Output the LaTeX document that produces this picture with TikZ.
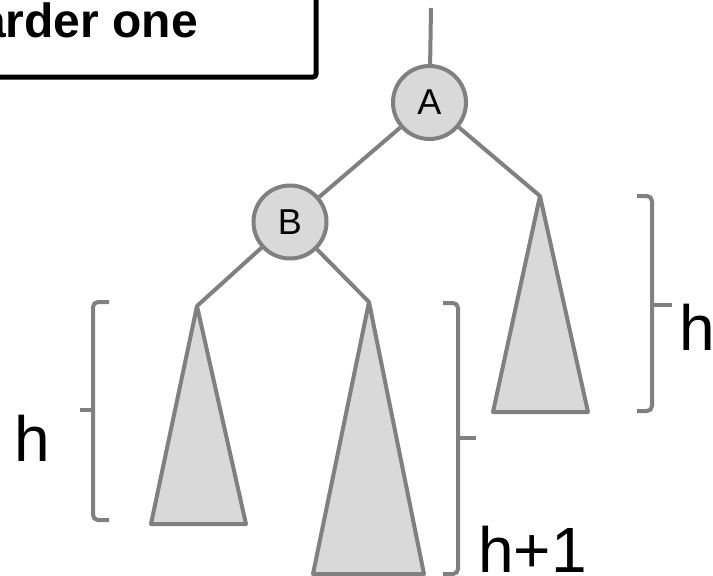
\documentclass[tikz,border=0pt]{standalone}
\usepackage{fontspec}
\setmainfont{Liberation Sans}
\definecolor{edgegray}{HTML}{808080}
\definecolor{fillgray}{HTML}{D9D9D9}
\begin{document}
\begin{tikzpicture}[x=1pt,y=-1pt,
  treenode/.style={circle,draw=edgegray,fill=fillgray,line width=4pt,minimum size=73pt,inner sep=0pt,font=\fontsize{36}{36}\selectfont},
  edge/.style={draw=edgegray,line width=4pt},
  subtree/.style={draw=edgegray,fill=fillgray,line width=4pt,line join=round},
  bracket/.style={draw=edgegray,line width=4pt,rounded corners=5pt},
  lbl/.style={inner sep=0pt,anchor=base west,font=\fontsize{64}{64}\selectfont}]
\useasboundingbox (0,0) rectangle (713,576);
\clip (0,0) rectangle (713,576);
% header box
\draw[line width=5pt,rounded corners=3pt] (-20,77) -- (316,77) -- (316,-20);
\node[inner sep=0pt,anchor=base east,font=\bfseries\fontsize{48}{48}\selectfont] (title) at (198,37) {Harder one};
% nodes
\node[treenode] (A) at (429.5,102.5) {A};
\node[treenode] (B) at (290,222) {B};
\coordinate (top) at (431,8);
\coordinate (L) at (197,306);
\coordinate (M) at (369,302);
\coordinate (R) at (540,196);
% edges
\draw[edge] (top) -- (A);
\draw[edge] (A) -- (B);
\draw[edge] (A) -- (R);
\draw[edge] (B) -- (L);
\draw[edge] (B) -- (M);
% subtrees
\path[subtree] (L) -- (246,524) -- (151,524) -- cycle;
\path[subtree] (M) -- (424,574) -- (313,574) -- cycle;
\path[subtree] (R) -- (588,412) -- (493,412) -- cycle;
% brackets
\draw[bracket] (109,302) -- (93,302) -- (93,520) -- (109,520);
\draw[edgegray,line width=4pt] (93,410) -- (80,410);
\draw[bracket] (443,303) -- (458,303) -- (458,574) -- (443,574);
\draw[edgegray,line width=4pt] (458,438) -- (476,438);
\draw[bracket] (637,196) -- (652,196) -- (652,411) -- (637,411);
\draw[edgegray,line width=4pt] (652,305) -- (672,305);
% labels
\node[lbl] (hl) at (14,461) {h};
\node[lbl] (hr) at (679,350) {h};
\node[lbl] (hp) at (478,572) {h+1};
\end{tikzpicture}
\end{document}
